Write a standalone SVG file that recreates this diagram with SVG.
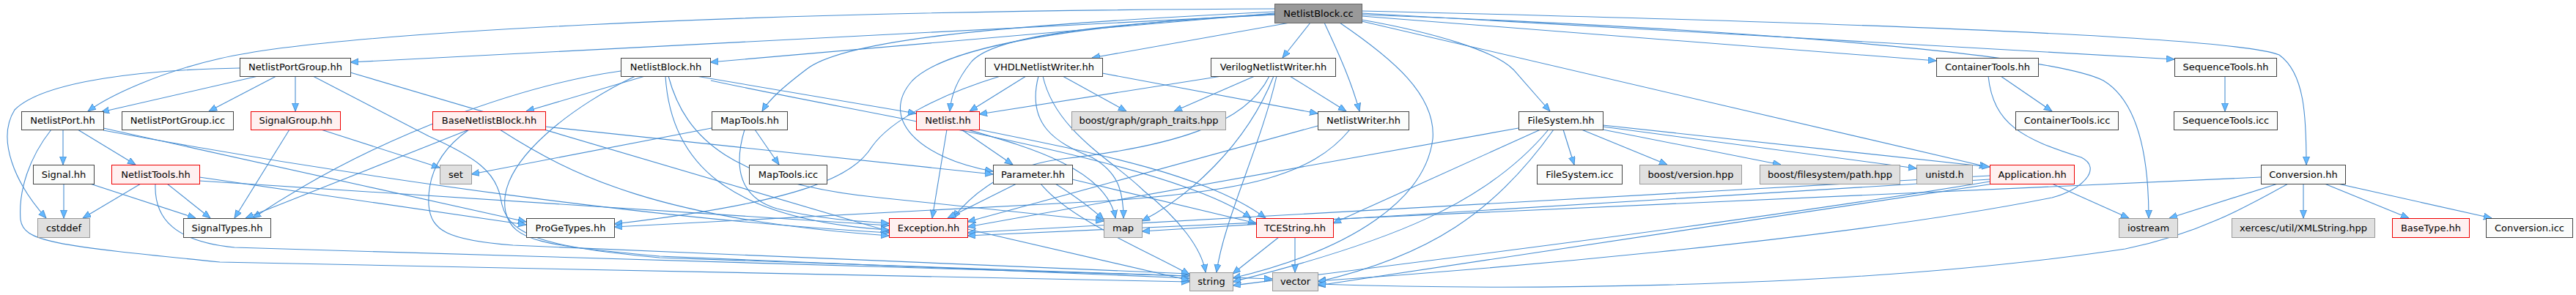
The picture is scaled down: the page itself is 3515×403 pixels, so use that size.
<svg xmlns="http://www.w3.org/2000/svg" width="3515" height="403" viewBox="0 0 3515 403">
<style>
.n rect{fill:#fbfcfb;stroke:#444;stroke-width:1}
.g rect{fill:#e0e0e0;stroke:#999;stroke-width:1}
.r rect{fill:#fff0f0;stroke:#e00;stroke-width:1}
.root rect{fill:#999;stroke:#666;stroke-width:1}
text{font-family:"DejaVu Sans","Liberation Sans",sans-serif;font-size:13px;fill:#000;text-anchor:middle}
#edges path{fill:none;stroke:#4a8fd2;stroke-width:1.1;marker-end:url(#ah)}
</style>
<defs>
<marker id="ah" markerWidth="12" markerHeight="10" refX="11" refY="4.5" orient="auto" markerUnits="userSpaceOnUse">
<path d="M0,0 L11,4.5 L0,9 Z" fill="#63b8ff" stroke="#3f80c0" stroke-width="0.8"/>
</marker>
</defs>
<rect x="0" y="0" width="3515" height="403" fill="#fff"/>
<g id="edges">
<path d="M1739,20 L478,85"/>
<path d="M1739,12 C1000,15 450,45 300,80 C220,98 150,130 120,152"/>
<path d="M1739,18 L969,85"/>
<path d="M1739,16 C1350,35 1150,55 1100,95 C1070,118 1050,135 1040,152"/>
<path d="M1739,20 C1450,35 1350,55 1325,85 C1305,110 1298,130 1296,152"/>
<path d="M1739,19 C1450,35 1290,65 1245,110 C1200,160 1250,215 1355,234"/>
<path d="M1760,31 L1490,79"/>
<path d="M1788,31 L1750,79"/>
<path d="M1807,31 C1830,80 1845,115 1855,152"/>
<path d="M1858,27 C1960,45 2040,70 2065,95 L2115,152"/>
<path d="M1858,29 L2712,228"/>
<path d="M1858,22 L2642,83"/>
<path d="M1858,18 L2967,81"/>
<path d="M1858,15 C2500,30 3050,50 3110,75 C3145,100 3147,160 3147,225"/>
<path d="M1858,20 C2400,40 2800,75 2870,110 C2920,140 2932,220 2932,298"/>
<path d="M1828,31 C1900,80 1960,130 1955,190 C1945,270 1850,340 1682,380"/>
<path d="M352,104 L138,153"/>
<path d="M377,104 L285,152"/>
<path d="M403,104 L403,152"/>
<path d="M327,93 C200,95 60,110 20,150 C-5,190 20,250 63,298"/>
<path d="M478,99 L1213,316"/>
<path d="M427,104 L585,186 C650,215 676,235 683,270 C690,320 730,336 900,352 L1736,381"/>
<path d="M86,177 L86,225"/>
<path d="M106,177 L185,225"/>
<path d="M70,177 C40,215 25,260 28,300 C32,330 70,335 300,358 L1623,385"/>
<path d="M141,175 L718,303"/>
<path d="M141,178 C500,245 900,300 1213,318"/>
<path d="M192,251 L113,298"/>
<path d="M228,251 L287,298"/>
<path d="M212,251 C210,300 240,330 320,338 L1623,377"/>
<path d="M272,242 L718,307"/>
<path d="M272,247 L1213,308"/>
<path d="M87,251 L87,298"/>
<path d="M123,251 L267,298"/>
<path d="M395,177 L320,298"/>
<path d="M438,177 L600,229"/>
<path d="M880,104 L718,152"/>
<path d="M847,97 C720,115 520,180 345,298"/>
<path d="M950,104 L1250,155"/>
<path d="M970,110 C1200,160 1600,220 1707,298"/>
<path d="M908,104 C915,220 990,300 1213,314"/>
<path d="M912,104 C935,190 1000,250 1200,270 L1506,302"/>
<path d="M867,104 C790,140 675,220 690,290 C700,330 740,335 900,350 L1623,380"/>
<path d="M640,177 L335,298"/>
<path d="M640,177 C600,205 583,240 585,280 C588,315 610,328 700,335 L1623,374"/>
<path d="M744,173 L1355,238"/>
<path d="M682,177 C780,240 900,300 1213,322"/>
<path d="M971,175 L643,238"/>
<path d="M1030,177 L1063,225"/>
<path d="M1016,177 C1000,230 1010,270 1060,285 C1120,300 1170,302 1213,305"/>
<path d="M1292,177 L1272,298"/>
<path d="M1312,177 L1382,225"/>
<path d="M1336,177 C1500,210 1650,240 1727,298"/>
<path d="M1320,177 C1400,200 1510,230 1522,298"/>
<path d="M1400,104 L1323,152"/>
<path d="M1450,104 L1537,152"/>
<path d="M1504,100 L1798,155"/>
<path d="M1417,104 C1400,170 1440,195 1490,215 C1525,235 1533,260 1533,298"/>
<path d="M1423,104 C1440,180 1520,220 1560,260 C1610,300 1640,340 1645,372"/>
<path d="M1365,104 C1280,130 1215,165 1190,200 C1165,240 1100,275 838,306"/>
<path d="M1667,104 L1336,156"/>
<path d="M1712,104 L1602,152"/>
<path d="M1760,104 L1837,152"/>
<path d="M1738,104 C1700,200 1620,270 1558,302"/>
<path d="M1742,104 C1720,200 1670,300 1660,372"/>
<path d="M1732,104 C1700,170 1600,200 1450,217 C1380,225 1330,260 1300,298"/>
<path d="M1842,177 C1790,240 1700,262 1500,275 L838,310"/>
<path d="M1798,172 L1320,303"/>
<path d="M1387,251 L1293,298"/>
<path d="M1440,251 C1470,270 1490,285 1506,300"/>
<path d="M1420,251 C1460,300 1560,340 1623,375"/>
<path d="M1463,245 L1714,305"/>
<path d="M1320,313 L1623,383"/>
<path d="M1745,324 L1682,374"/>
<path d="M1767,324 L1767,372"/>
<path d="M2133,177 L2148,225"/>
<path d="M2158,177 L2275,225"/>
<path d="M2187,177 L2430,225"/>
<path d="M2187,173 L2615,230"/>
<path d="M2187,171 L2715,228"/>
<path d="M2102,177 L1819,305"/>
<path d="M2113,177 C2030,277 1900,330 1682,385"/>
<path d="M2120,177 C2040,290 1950,350 1798,385"/>
<path d="M2072,175 L1320,310"/>
<path d="M2800,251 L2905,298"/>
<path d="M2715,248 C2400,300 2000,350 1682,390"/>
<path d="M2720,251 L1798,390"/>
<path d="M2715,245 L1558,316"/>
<path d="M2715,240 L1320,318"/>
<path d="M2730,104 L2800,152"/>
<path d="M2713,104 C2720,170 2760,190 2840,215 C2870,230 2840,260 2800,270 C2500,330 2000,370 1798,384"/>
<path d="M3036,104 L3036,152"/>
<path d="M3143,251 L3143,298"/>
<path d="M3172,251 L3287,298"/>
<path d="M3190,251 L3400,298"/>
<path d="M3108,251 L2960,298"/>
<path d="M3122,251 C3070,280 3000,320 2900,340 C2500,400 2000,395 1798,388"/>
<path d="M3085,242 L1320,322"/>
</g>
<g id="n_cc" class="root"><rect x="1739.5" y="5.5" width="119" height="26"/><text x="1799" y="23">NetlistBlock.cc</text></g>
<g id="n_npg_hh" class="n"><rect x="327.5" y="79.5" width="151" height="25"/><text x="403" y="96">NetlistPortGroup.hh</text></g>
<g id="n_nb_hh" class="n"><rect x="847.5" y="79.5" width="122" height="25"/><text x="908.5" y="96">NetlistBlock.hh</text></g>
<g id="n_vhdl" class="n"><rect x="1344.5" y="79.5" width="160" height="25"/><text x="1424.5" y="96">VHDLNetlistWriter.hh</text></g>
<g id="n_verilog" class="n"><rect x="1652.5" y="79.5" width="170" height="25"/><text x="1737.5" y="96">VerilogNetlistWriter.hh</text></g>
<g id="n_ct_hh" class="n"><rect x="2642.5" y="79.5" width="139" height="25"/><text x="2712" y="96">ContainerTools.hh</text></g>
<g id="n_st_hh" class="n"><rect x="2967.5" y="79.5" width="139" height="25"/><text x="3037" y="96">SequenceTools.hh</text></g>
<g id="n_np_hh" class="n"><rect x="29.5" y="152.5" width="112" height="25"/><text x="85.5" y="169">NetlistPort.hh</text></g>
<g id="n_npg_icc" class="n"><rect x="166.5" y="152.5" width="152" height="25"/><text x="242.5" y="169">NetlistPortGroup.icc</text></g>
<g id="n_sg_hh" class="r"><rect x="342.5" y="152.5" width="122" height="25"/><text x="403.5" y="169">SignalGroup.hh</text></g>
<g id="n_bnb" class="r"><rect x="590.5" y="152.5" width="154" height="25"/><text x="667.5" y="169">BaseNetlistBlock.hh</text></g>
<g id="n_mt_hh" class="n"><rect x="971.5" y="152.5" width="103" height="25"/><text x="1023" y="169">MapTools.hh</text></g>
<g id="n_netlist" class="r"><rect x="1250.5" y="152.5" width="86" height="25"/><text x="1293.5" y="169">Netlist.hh</text></g>
<g id="n_bgt" class="g"><rect x="1462.5" y="152.5" width="210" height="25"/><text x="1567.5" y="169">boost/graph/graph_traits.hpp</text></g>
<g id="n_nw_hh" class="n"><rect x="1798.5" y="152.5" width="124" height="25"/><text x="1860.5" y="169">NetlistWriter.hh</text></g>
<g id="n_fs_hh" class="n"><rect x="2072.5" y="152.5" width="115" height="25"/><text x="2130" y="169">FileSystem.hh</text></g>
<g id="n_ct_icc" class="n"><rect x="2750.5" y="152.5" width="140" height="25"/><text x="2820.5" y="169">ContainerTools.icc</text></g>
<g id="n_st_icc" class="n"><rect x="2966.5" y="152.5" width="141" height="25"/><text x="3037" y="169">SequenceTools.icc</text></g>
<g id="n_sig" class="n"><rect x="45.5" y="225.5" width="83" height="26"/><text x="87" y="243">Signal.hh</text></g>
<g id="n_nt_hh" class="r"><rect x="152.5" y="225.5" width="120" height="26"/><text x="212.5" y="243">NetlistTools.hh</text></g>
<g id="n_set" class="g"><rect x="600.5" y="225.5" width="43" height="26"/><text x="622" y="243">set</text></g>
<g id="n_mt_icc" class="n"><rect x="1022.5" y="225.5" width="106" height="26"/><text x="1075.5" y="243">MapTools.icc</text></g>
<g id="n_param" class="n"><rect x="1355.5" y="225.5" width="108" height="26"/><text x="1409.5" y="243">Parameter.hh</text></g>
<g id="n_fs_icc" class="n"><rect x="2097.5" y="225.5" width="116" height="26"/><text x="2155.5" y="243">FileSystem.icc</text></g>
<g id="n_bver" class="g"><rect x="2237.5" y="225.5" width="139" height="26"/><text x="2307" y="243">boost/version.hpp</text></g>
<g id="n_bpath" class="g"><rect x="2401.5" y="225.5" width="191" height="26"/><text x="2497" y="243">boost/filesystem/path.hpp</text></g>
<g id="n_unistd" class="g"><rect x="2615.5" y="225.5" width="76" height="26"/><text x="2653.5" y="243">unistd.h</text></g>
<g id="n_app" class="r"><rect x="2715.5" y="225.5" width="115" height="26"/><text x="2773" y="243">Application.hh</text></g>
<g id="n_conv" class="n"><rect x="3085.5" y="225.5" width="115" height="26"/><text x="3143" y="243">Conversion.hh</text></g>
<g id="n_cstddef" class="g"><rect x="51.5" y="298.5" width="71" height="26"/><text x="87" y="316">cstddef</text></g>
<g id="n_st" class="n"><rect x="250.5" y="298.5" width="119" height="26"/><text x="310" y="316">SignalTypes.hh</text></g>
<g id="n_pgt" class="n"><rect x="718.5" y="298.5" width="120" height="26"/><text x="778.5" y="316">ProGeTypes.hh</text></g>
<g id="n_exc" class="r"><rect x="1213.5" y="298.5" width="107" height="26"/><text x="1267" y="316">Exception.hh</text></g>
<g id="n_map" class="g"><rect x="1506.5" y="298.5" width="52" height="26"/><text x="1532.5" y="316">map</text></g>
<g id="n_tce" class="r"><rect x="1714.5" y="298.5" width="105" height="26"/><text x="1767" y="316">TCEString.hh</text></g>
<g id="n_iostream" class="g"><rect x="2891.5" y="298.5" width="80" height="26"/><text x="2931.5" y="316">iostream</text></g>
<g id="n_xerces" class="g"><rect x="3045.5" y="298.5" width="195" height="26"/><text x="3143" y="316">xercesc/util/XMLString.hpp</text></g>
<g id="n_bt" class="r"><rect x="3264.5" y="298.5" width="105" height="26"/><text x="3317" y="316">BaseType.hh</text></g>
<g id="n_conv_icc" class="n"><rect x="3392.5" y="298.5" width="118" height="26"/><text x="3451.5" y="316">Conversion.icc</text></g>
<g id="n_string" class="g"><rect x="1623.5" y="372.5" width="59" height="25"/><text x="1653" y="389">string</text></g>
<g id="n_vector" class="g"><rect x="1736.5" y="372.5" width="62" height="25"/><text x="1767.5" y="389">vector</text></g>
</svg>
